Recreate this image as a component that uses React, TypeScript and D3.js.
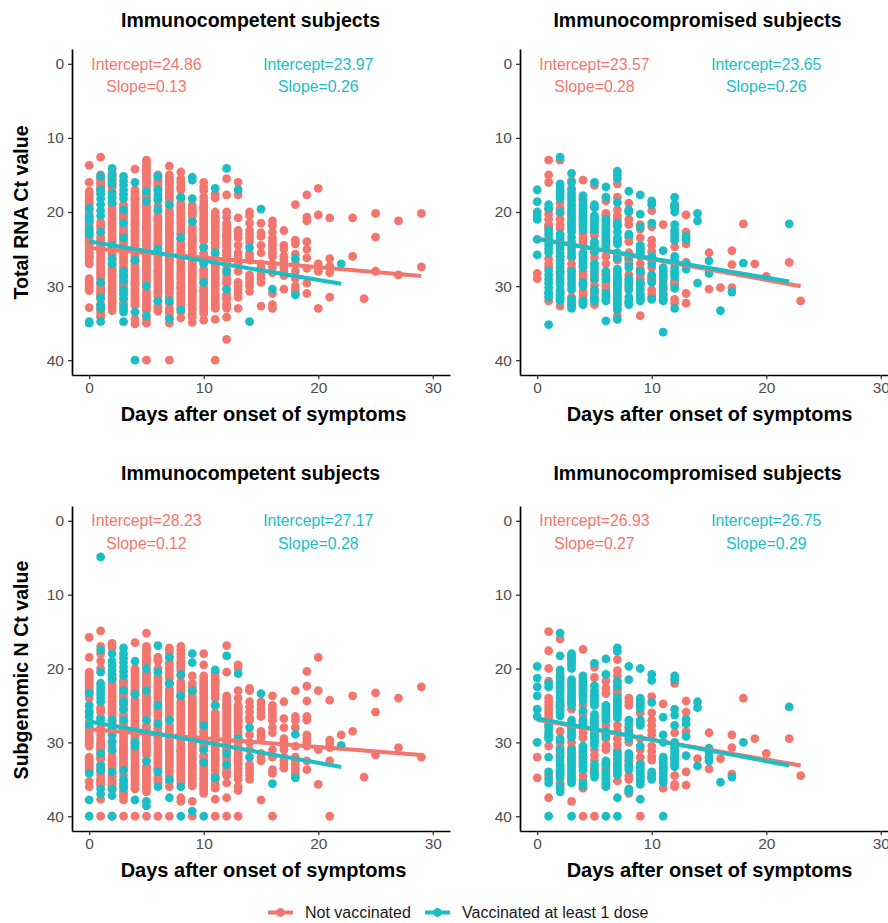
import React, { useEffect, useRef } from 'react';
import * as d3 from 'd3';

const SALMON = '#F3766E';
const TEAL = '#1BBEC4';
const FONT = '"Liberation Sans", Arial, sans-serif';
const DOT_R = 4.4;

const xTicks = [0, 10, 20, 30];
const yTicks = [0, 10, 20, 30, 40];
const legendLabels = ['Not vaccinated', 'Vaccinated at least 1 dose'];

// Total RNA, immunocompetent
const aNot: number[][] = [
  [13.7, 16, 17.2, 17.8, 18.4, 19, 19.7, 20.4, 21, 21.7, 22.4, 23, 23.7, 24.4, 25, 25.7, 26.3, 27, 29, 29.5, 30, 30.6, 32.9],
  [12.6, 15, 15.6, 16.2, 16.8, 21.4, 22.2, 23.4, 24.1, 24.8, 25.5, 26.2, 26.9, 27.6, 28.3, 29, 30, 30.7, 31.2, 33.5, 34.2],
  [14.6, 15.2, 16, 16.7, 19.5, 20.3, 21, 21.7, 22.4, 23.1, 23.8, 24.5, 25.2, 25.9, 26.6, 27.3, 28, 28.7, 29.4, 30.1, 30.8, 31.5, 32.2, 32.9],
  [19, 19.7, 20.4, 21, 22, 22.7, 24.2, 24.9, 25.6, 26.3, 27, 27.7, 29.4, 30, 32.3, 33.2],
  [14.2, 17, 17.7, 18.4, 19.1, 19.8, 20.5, 21.2, 21.9, 22.6, 23.3, 24, 24.7, 25.4, 26.1, 27.2, 27.9, 28.6, 29.3, 30, 30.7, 31.4, 32.1, 32.6, 34.5, 35.1],
  [13, 13.7, 14.4, 15, 15.7, 16.4, 18, 19, 19.7, 20.4, 21.1, 21.8, 22.5, 23.2, 23.9, 24.6, 25.3, 26, 26.7, 27.4, 28.1, 28.8, 29.5, 30.6, 31.3, 32, 32.7, 33.3, 34.5, 35, 40],
  [15, 15.7, 16.4, 17.1, 19.2, 20.6, 21.3, 22, 22.7, 23.4, 24.1, 25.8, 26.5, 27.2, 27.9, 28.6, 29.3, 30, 30.7, 31.4, 32.7, 33.4],
  [13.8, 15, 15.7, 16.4, 17.1, 17.8, 18.5, 19.8, 20.5, 21.2, 21.9, 22.6, 23.3, 24, 24.7, 25.4, 26.1, 26.8, 27.5, 28.2, 28.9, 29.6, 30.3, 31, 33, 33.7, 35, 40],
  [14.6, 15.5, 16.5, 17, 18.8, 19.5, 20.2, 20.9, 21.6, 22.3, 23, 24.2, 24.9, 25.6, 26.3, 27, 27.7, 28.4, 29.1, 29.8, 30.5, 31.2, 31.9, 32.6, 34.3],
  [19.1, 19.8, 20.5, 22, 22.7, 23.4, 24.1, 24.8, 25.5, 26.2, 26.9, 27.6, 28.3, 29, 29.7, 30.4, 31.1, 31.8, 32.5, 33.2, 34.2, 34.9],
  [16, 16.6, 17.1, 18, 19, 19.7, 20.4, 21.1, 21.8, 22.5, 23.2, 23.9, 25.5, 26.2, 27.7, 28.4, 29.1, 30.2, 30.9, 31.6, 32.3, 33, 33.7, 34.6],
  [17.6, 18.1, 20, 20.7, 21.4, 22.1, 22.8, 23.5, 24.8, 26.2, 26.9, 27.6, 28.3, 29, 29.7, 30.4, 31.1, 31.8, 32.5, 33, 34.5, 40],
  [15.5, 17.7, 20, 21.5, 22.2, 22.9, 23.6, 24.3, 25, 25.7, 26.4, 27.1, 29, 29.7, 31.1, 31.8, 32.4, 33, 34.2, 37.2],
  [16, 17.7, 20.8, 22.5, 23, 23.5, 24.5, 25.5, 26, 26.5, 27, 28, 29.5, 30, 30.5, 31, 31.5, 33],
  [20, 20.5, 21.5, 22.5, 23, 23.5, 24, 25.6, 26, 26.5, 28.5, 29, 29.5, 30, 30.7],
  [21.5, 22.8, 23.3, 24.5, 25.5, 27, 27.5, 28, 28.5, 29, 29.5, 32.7],
  [21.2, 21.8, 22.7, 23.5, 24, 24.5, 25, 25.5, 26, 27, 27.5, 28.2, 31, 32.5, 33],
  [22.5, 24.5, 25, 26, 26.5, 27, 27.5, 28, 28.6, 30.4],
  [19, 23.8, 24.3, 25.7, 27, 28, 29, 30, 30.5, 31],
  [17.7, 20.7, 21.2, 24, 25, 26.2, 27.6, 29.6, 31],
  [16.8, 20.4, 27, 27.5, 28, 33],
  [20.8, 26.3, 27.3, 28.2, 31.5],
  [],
  [20.8, 26],
  [31.7],
  [20.2, 23.4, 28],
  [],
  [21.2, 28.5],
  [],
  [20.2, 27.4],
];
const aNotMid: number[][] = [
  [17.5, 18.1, 18.7, 19.4, 20, 20.7, 21.4, 22, 22.7, 23.4, 24, 24.7, 25.4, 26, 26.7, 29.3, 29.8, 30.3],
  [15.3, 15.9, 16.5, 17.2, 21.8, 22.8, 23.8, 24.5, 25.2, 25.9, 26.6, 27.3, 28, 28.7, 29.6, 30.4, 31, 31.8, 32.6, 33.2, 33.9],
  [14.9, 15.6, 16.4, 17.2, 18, 19, 19.9, 20.7, 21.4, 22.1, 22.8, 23.5, 24.2, 24.9, 25.6, 26.3, 27, 27.7, 28.4, 29.1, 29.8, 30.5, 31.2, 31.9, 32.6, 33.3],
  [19.4, 20.1, 20.7, 21.5, 22.4, 23.2, 23.9, 24.6, 25.3, 26, 26.7, 27.4, 28, 28.7, 29.7, 30.4, 31, 31.7, 32.6],
  [17.4, 18.1, 18.8, 19.5, 20.2, 20.9, 21.6, 22.3, 23, 23.7, 24.4, 25.1, 25.8, 26.7, 27.6, 28.3, 29, 29.7, 30.4, 31.1, 31.8, 32.4],
  [13.4, 14, 14.7, 15.4, 16, 16.8, 17.6, 18.5, 19.4, 20.1, 20.8, 21.5, 22.2, 22.9, 23.6, 24.3, 25, 25.7, 26.4, 27.1, 27.8, 28.5, 29.2, 30, 31, 31.7, 32.4, 33],
  [15.4, 16, 16.8, 18.2, 19.9, 21, 21.7, 22.4, 23.1, 23.8, 24.5, 25, 25.5, 26.2, 26.9, 27.6, 28.3, 29, 29.7, 30.4, 31, 32, 33],
  [15.4, 16, 16.8, 17.5, 18.2, 19.2, 20.2, 20.9, 21.6, 22.3, 23, 23.7, 24.4, 25.1, 25.8, 26.5, 27.2, 27.9, 28.6, 29.3, 30, 30.7, 31.5, 32.3, 33.4, 34.3],
  [16, 16.8, 18, 19.2, 19.9, 20.6, 21.3, 22, 22.7, 23.6, 24.5, 25.3, 26, 26.7, 27.4, 28.1, 28.8, 29.5, 30.2, 30.9, 31.6, 32.3, 33, 33.5],
  [19.5, 20.2, 21.2, 22.4, 23.1, 23.8, 24.5, 25.2, 25.9, 26.6, 27.3, 28, 28.7, 29.4, 30.1, 30.8, 31.5, 32.2, 32.9, 33.7],
  [18.5, 19.4, 20, 20.8, 21.5, 22.2, 22.9, 23.6, 24.7, 25.8, 26.9, 28, 28.8, 29.6, 30.6, 31.3, 32, 32.7, 33.4],
  [20.4, 21.1, 21.8, 22.5, 23.2, 24.1, 25.5, 26.5, 27.3, 28, 28.7, 29.3, 30, 30.8, 31.5, 32.2, 32.8],
  [20.7, 21.8, 22.5, 23.3, 24, 24.6, 25.4, 26, 26.8, 27.8, 28.4, 29.4, 30.4, 31.5, 32.7],
];
const aVaxBack: number[][] = [
  [24, 26], [], [18.8, 27.8], [23, 28.6], [18.2, 21.6, 26.6, 29.7],
  [17.7, 22.2, 27.8], [20.9, 24.4, 28], [16.2, 22.9, 26.4, 29.9], [18.2, 23.6, 30.2], [20.1, 23.7, 27.2, 30.7],
  [19.4, 26.5, 30.6], [21, 24.2, 27.2], [23.3, 25.3],
];
const aVaxFront: number[][] = [
  [19.5, 20.6, 21.2, 22.3, 23, 34.8, 35],
  [15.2, 17, 17.6, 18.2, 19, 19.8, 20.5, 22.7, 29.5, 31.5, 32.5, 33, 34.8],
  [14.1, 15, 15.6, 16.2, 17.5, 18.1, 18.7, 24.5, 26.3, 27],
  [15.2, 15.8, 16.4, 17, 17.6, 18.2, 19.7, 21.5, 23.5, 28, 28.6, 29.2, 30.5, 31.1, 31.7, 32.8, 33.5, 34.8],
  [16, 26.5, 33.5, 40],
  [17.2, 18.5, 30, 34],
  [15.2, 17, 17.7, 18.4, 19.7, 25, 32],
  [19, 32, 34.4],
  [18, 23.5, 33.2],
  [15.3, 15.7, 18.2, 21.3],
  [24.8, 27, 29.5],
  [16.8, 25.5],
  [14.1, 28, 30.4],
  [17],
  [24.8, 34.8],
  [19.6],
  [30.4],
  [],
  [26.3, 31.2],
  [], [], [],
  [27],
];

// Total RNA, immunocompromised
const bNot: number[][] = [
  [28.3, 29],
  [13, 15, 16, 19.7, 20.3, 21, 21.7, 22.2, 26.3, 27, 27.5, 32],
  [13, 18.8, 19.5, 20.2, 21, 21.7, 22.2, 26, 27, 28.2, 32.7],
  [15.8, 16.8, 21.7, 26.2, 27, 27.6, 31.5],
  [15.7, 18.2, 23, 23.5, 24, 24.5, 28, 28.5, 29, 30.7, 31.3],
  [16.4, 23.2, 25.5, 26.2, 27, 28.5, 29.2, 29.9, 30.5, 31, 32.5],
  [18.5, 20.2, 25, 26, 27, 28.5, 30],
  [16.2, 18, 19.7, 20.5, 21, 23.7, 26.5, 32.4, 34],
  [18.8, 21, 21.7, 24, 25.5, 26.3, 28.5, 30.2],
  [21.7, 22.3, 23.5, 27, 27.7, 28.5, 29, 29.7, 34],
  [19.8, 22, 23.8, 24.5, 25.3, 26, 27.5, 29, 30.5, 31],
  [21.7, 28.7, 29.5, 30.3],
  [19, 24.7, 29.7, 31.8, 32.3],
  [20.4, 22.7, 24.3, 26.8, 31, 32.3],
  [],
  [25.5, 30.4],
  [30.2],
  [25.2, 27.1, 30.2],
  [21.6],
  [27],
  [28.7],
  [],
  [26.8],
  [32],
];
const bVax: number[][] = [
  [17, 18.6, 20, 20.5, 21, 23.7, 25.8],
  [19, 19.5, 22.5, 23.5, 24.5, 25, 25.5, 27.9, 29.1, 30.2, 31.5, 35.2],
  [12.6, 16.2, 17, 17.6, 18.2, 20, 23, 24, 25, 26, 27, 28, 29, 29.5, 30.5, 31, 31.5, 32],
  [14.8, 16, 17, 18, 19, 19.7, 20.5, 21.3, 22, 22.7, 24, 25, 26, 28, 29, 30, 31.8, 32.5, 33],
  [17.8, 18.5, 19, 19.7, 20.4, 21, 21.7, 22.4, 25.5, 26.2, 26.9, 27.5, 29.5, 30, 32, 32.5],
  [16, 19, 20.5, 21, 21.7, 22.4, 24, 24.7, 25.3, 27, 28, 29, 30.5, 31.5, 32],
  [16.6, 18, 21, 21.7, 22.4, 23, 23.7, 24.4, 28, 29, 31, 31.7, 34.7],
  [14.5, 15, 15.5, 18.7, 21.5, 22, 23.5, 24, 25.5, 26.2, 27.7, 28.5, 29, 29.6, 30.2, 31, 31.7, 32.5, 33.2, 34.5],
  [17.2, 19.7, 20, 23, 26, 27.5, 29, 29.7, 30.5, 32, 32.5],
  [17.7, 20.3, 22, 24.5, 25, 25.5, 26, 28, 29.5, 30, 31, 31.5, 32],
  [18.5, 19, 21.5, 26, 27, 28.5, 29.5, 31.8],
  [25.2, 27.5, 28.2, 29, 30, 31, 31.7, 32, 36.2],
  [18, 19, 19.5, 20, 21.7, 22.8, 23.8, 26, 27, 28, 28.7, 30.3, 33],
  [23.3, 23.7, 27, 27.7],
  [20.2, 21.2, 29.6],
  [26.6, 27.9, 28.3],
  [33.3],
  [30.8],
  [26.9],
  [], [], [],
  [21.6],
];
const bVaxMid: number[][] = [
  [],
  [22, 23, 24, 28.5, 29.6, 30.8, 31],
  [16.6, 17.3, 17.9, 23.5, 24.5, 25.5, 26.5, 27.5, 28.5, 29.8, 30.8, 31.2, 31.7],
  [17.5, 18.5, 19.3, 20.1, 20.9, 21.6, 22.3, 23.4, 24.5, 25.5, 28.5, 29.5, 30.5, 32.2, 32.8],
  [18.2, 19.3, 20, 20.7, 21.3, 22, 25.8, 26.5, 27.2, 29.8, 31.9, 32.3],
  [19.4, 20.8, 21.3, 22, 22.7, 24.3, 25, 27.5, 28.5, 30.9, 31.8],
  [20.5, 21.3, 22, 22.7, 23.4, 24, 24.7, 28.5, 29.5, 30.5, 31.3, 32],
  [21.8, 22.7, 24.3, 25.8, 28, 28.8, 29.3, 29.9, 30.6, 31.3, 32.1, 32.9],
  [19.9, 23.4, 26.5, 27, 29.3, 30, 31.5, 32.2],
  [24.8, 25.2, 25.8, 28.3, 29.7, 30.5, 31.3, 31.8],
  [26.5, 28.8, 29.2, 31.5],
  [27.9, 28.6, 30.5, 31.3, 31.9],
  [19.2, 22.4, 23.3, 26.5, 27.5, 28.3, 29.3, 29.8],
];

// Subgenomic N, immunocompetent
const cNot: number[][] = [
  [15.8, 18.5, 20.5, 21, 21.5, 22, 22.6, 23.2, 24, 27.2, 28, 29, 29.5, 30, 30.5, 32, 32.5, 33, 33.5, 34, 35.3, 36],
  [14.9, 17, 18, 19, 20, 25.3, 25.9, 28, 29, 30, 30.5, 31, 32.3, 34.5, 35, 35.5, 37.7, 40],
  [16.6, 17.2, 21.8, 22.5, 23.2, 23.9, 24.6, 25.3, 26, 26.7, 27.4, 31.8, 32.5, 33.2, 34.6, 35.3, 36, 40],
  [21.6, 22.2, 22.9, 23.6, 25, 26.2, 27.7, 28.4, 29.1, 29.8, 30.5, 31.2, 31.9, 32.6, 33.2, 36.7, 37.3, 37.8, 40],
  [16.5, 20, 20.7, 21.4, 22.1, 22.8, 24.2, 24.9, 25.6, 26.3, 27, 27.7, 28.4, 29.1, 30.7, 31.4, 32.1, 32.8, 33.5, 34.2, 34.9, 35.6, 36.3, 40],
  [15.2, 17, 17.6, 18.5, 19, 19.5, 21.6, 22.3, 23.6, 24.3, 25, 25.7, 26.4, 27.7, 28.4, 29.1, 29.8, 30.5, 31.2, 33.2, 33.9, 34.6, 35.3, 36, 36.7, 40],
  [18.5, 19, 21.2, 21.9, 22.6, 23.3, 24, 25.7, 26.4, 28.1, 28.8, 29.5, 30.2, 30.9, 31.6, 32.3, 33, 34.7, 35.4, 40],
  [17.2, 17.8, 19.2, 19.9, 20.6, 21.3, 22.8, 23.5, 24.2, 24.9, 25.6, 26.3, 27.7, 28.4, 29.1, 29.8, 30.5, 31.2, 31.9, 32.6, 33.3, 34, 36, 40],
  [17, 18, 19, 19.6, 20.2, 21.8, 22.5, 23.3, 24.5, 25.2, 25.9, 26.6, 27.3, 28, 28.7, 29.4, 30.1, 30.8, 31.5, 32.2, 32.9, 33.6, 34.3, 35, 37.5, 38],
  [21, 22.5, 23.7, 24.4, 25.1, 25.8, 26.5, 27.2, 27.9, 28.6, 29.3, 30, 30.7, 31.4, 32.1, 32.8, 33.5, 34.2, 34.9, 35.6, 38, 40],
  [18, 19.5, 21, 21.7, 22.4, 23.1, 23.8, 24.5, 25.2, 25.9, 26.6, 28.4, 29.1, 29.8, 32, 33.4, 34.1, 34.8, 35.5, 36.2, 36.9],
  [20.5, 21.5, 22, 23, 24, 26, 26.7, 27.4, 28.1, 28.8, 29.5, 30.2, 30.9, 31.6, 32.3, 33, 33.7, 35.5, 36.2, 37.7, 40],
  [16.9, 20.5, 23.7, 24.4, 25.1, 25.8, 26.5, 27.2, 27.9, 28.6, 29.3, 30, 30.7, 32, 34, 34.5, 35.5, 37.5, 40],
  [19.5, 20, 23, 24, 25, 25.5, 26, 26.5, 27, 27.5, 28, 30.5, 31, 31.7, 32.4, 33, 34, 35, 36, 36.5, 40],
  [22.7, 23, 24.5, 25.2, 25.9, 26.6, 27, 29, 30, 31, 33, 33.5, 34, 34.5, 35],
  [24.5, 25, 25.5, 26, 26.5, 28.5, 29, 29.5, 31.5, 32, 32.5, 37.8],
  [23.7, 25, 25.5, 26, 26.5, 27, 28, 28.7, 31, 32, 33.7, 34.2, 40],
  [24.5, 26.8, 28, 29.5, 30, 30.5, 31, 32, 32.5, 33, 33.5],
  [23, 26.5, 27, 28, 30.5, 32, 32.5, 33, 33.5, 34, 34.5],
  [20.4, 22.4, 24.4, 26.5, 27, 29, 29.5, 30, 30.5, 32.5, 33.7],
  [18.5, 23, 31, 35.7],
  [24.3, 29.7, 30.2, 30.7, 32.5, 40],
  [29],
  [23.7, 28.5],
  [34.7],
  [23.3, 25.9, 31.7],
  [],
  [24, 30.7],
  [],
  [22.5, 32],
];
const cNotMid: number[][] = [
  [20.8, 21.3, 21.8, 22.3, 22.9, 23.6, 28.5, 29.3, 29.8, 30.3, 32.3, 32.8, 33.3, 33.8],
  [25.6, 28.5, 29.5, 30.3, 30.8, 31.5, 32, 33, 33.5, 34, 35.2, 35.8],
  [21.1, 21.5, 22.2, 22.9, 23.6, 24.3, 25, 25.7, 26.4, 27, 27.7, 28.4, 29, 29.8, 30.5, 31.2, 32.2, 32.9, 33.6, 34.3, 35, 35.7, 36.4],
  [21.9, 22.6, 23.3, 24, 24.7, 25.6, 26.6, 27.3, 28, 28.7, 29.4, 30.1, 30.8, 31.5, 32.2, 32.9, 33.6, 34.4, 35.2, 36, 37],
  [20.3, 21, 21.7, 22.4, 23.1, 23.5, 24.5, 25.2, 25.9, 26.6, 27.3, 28, 28.7, 29.5, 30.2, 31, 31.7, 32.4, 33.1, 33.8, 34.5, 35.2, 35.9],
  [17.3, 18, 18.8, 19.2, 20.5, 21.3, 21.9, 22.7, 23.2, 24, 24.7, 25.4, 26, 27, 28, 28.8, 29.5, 30.2, 30.9, 31.7, 32.5, 33.5, 34.2, 34.9, 35.6, 36.3],
  [18.8, 20, 21.5, 22.3, 23, 23.7, 24.5, 25.3, 26, 27, 27.7, 28.5, 29.2, 29.9, 30.6, 31.3, 32, 32.7, 33.4, 34, 35],
  [17.5, 18.5, 19.5, 20.2, 21, 22, 23.1, 23.8, 24.5, 25.2, 25.9, 27, 28, 28.7, 29.4, 30.1, 30.8, 31.5, 32.2, 32.9, 33.6, 34.5, 35.3],
  [17.5, 18.5, 19.3, 19.9, 21, 22.2, 22.9, 23.9, 24.8, 25.5, 26.2, 26.9, 27.6, 28.3, 29, 29.7, 30.4, 31.1, 31.8, 32.5, 33.2, 33.9, 34.6, 35.5],
  [22, 23.1, 24, 24.7, 25.4, 26.1, 26.8, 27.5, 28.2, 28.9, 29.6, 30.3, 31, 31.7, 32.4, 33.1, 33.8, 34.5, 35.2, 35.9],
  [21.3, 22, 22.7, 23.4, 24.1, 24.8, 25.5, 26.2, 27, 28, 28.7, 29.4, 30.3, 31, 31.7, 32.5, 33, 33.7, 34.4, 35.1, 35.8, 36.5],
  [21, 21.8, 22.5, 23.5, 26.3, 27, 27.7, 28.4, 29.1, 29.8, 30.5, 31.2, 31.9, 32.6, 33.3, 34.4, 35, 35.9],
  [24, 24.7, 25.4, 26.1, 26.8, 27.5, 28.2, 28.9, 29.6, 30.3, 31, 31.5, 32.5, 33, 33.5, 34.2],
  [25.2, 25.8, 26.2, 26.8, 27.2, 27.8, 28.5, 29, 29.5, 30, 30.8, 31.4, 32, 32.7, 33.5, 34.5],
];
const cVaxBack: number[][] = [
  [26], [26.6], [28.3], [24.4, 28], [23.4, 29.9],
  [20.9, 30.4], [24.8, 33.6], [22.1, 26.9], [23.7, 31.2], [23, 30.4],
  [27.3, 30.6], [25, 34.8],
];
const cVaxFront: number[][] = [
  [23.3, 25, 25.8, 26.5, 27.6, 34.2, 37.8, 40],
  [4.9, 17.5, 20.5, 22, 22.5, 23, 23.5, 24, 24.5, 27, 31.5, 33.2, 33.8, 36.3, 37],
  [18, 19, 19.6, 20.2, 20.8, 21.4, 27, 28, 29, 30, 31, 34, 36.3, 37.2, 40],
  [17.2, 18, 18.6, 19.2, 19.8, 20.4, 21, 23, 24.5, 25.5, 27, 33.8, 35, 35.6, 36.2],
  [19, 23.5, 30, 30.5, 37.8],
  [20, 23, 27, 32.5, 38, 38.6],
  [16.9, 20.5, 25, 27.5, 34, 36],
  [18.5, 22, 27, 35, 37.5],
  [20.8, 23.7, 36, 40],
  [18, 19.2, 23, 39.3],
  [27.7, 31, 32.7, 40],
  [20.2, 25, 34.8],
  [18.3, 31.5, 33],
  [20.7, 29.5],
  [28, 32],
  [23.4],
  [35.6],
  [],
  [28.9, 34.8],
  [], [], [],
  [30.4],
];

// Subgenomic N, immunocompromised
const dNot: number[][] = [
  [32, 34.8],
  [15, 17.6, 20, 21.7, 24, 24.5, 25, 25.5, 26, 26.5, 27, 30.5, 34.5, 37.5],
  [16, 20.7, 25, 28.5, 30.7, 31.3, 31.8, 35.7],
  [18.7, 25.5, 30, 30.7, 31.3, 38],
  [17.4, 25, 26.3, 28, 28.7, 29.4, 32, 34.5, 36.2, 40],
  [19.8, 21.2, 28, 31, 31.7, 32.4, 33.7, 40],
  [21.7, 22.7, 23.4, 27.7, 28.7, 29.5, 30.4, 31, 33.7],
  [18.8, 20.3, 21, 23, 27.7, 28.5, 29.5, 30.3, 31, 35.2],
  [24, 24.5, 25, 28, 30, 32.5, 34.5, 35, 36.9],
  [26, 29.5, 31, 32, 32.8, 40],
  [23.8, 26, 27, 27.7, 28.4, 29, 30.5, 31.2, 31.9, 32.4],
  [24.8, 33.5, 36.2],
  [22, 28.7, 34.5, 35.7, 36],
  [24.4, 25.9, 28.5, 34, 35.8],
  [32.2],
  [28.7, 33.6],
  [32.2],
  [29, 30.7, 34.3],
  [24],
  [29.5],
  [31.5],
  [],
  [29.5],
  [34.5],
];
const dVax: number[][] = [
  [19.7, 21.3, 22.5, 23.7, 25.5, 26.5, 30],
  [22, 22.5, 27.5, 28, 29, 29.5, 32, 34, 35, 35.5, 40],
  [15.2, 18.3, 20.2, 21, 21.7, 22.4, 23, 23.7, 24.4, 25, 25.7, 26.4, 29.5, 31, 32, 33, 33.6, 34.2, 34.8, 36, 36.7],
  [18, 18.6, 19.2, 20, 21.5, 22.2, 23, 23.7, 24.4, 25, 27, 28, 28.7, 29.3, 31, 31.7, 32.3, 33, 33.7, 34.4, 35, 35.5, 40],
  [21, 21.7, 22.4, 23, 23.7, 24.4, 25.7, 27, 27.7, 30.5, 31, 31.7, 32.4, 33, 33.7, 35.9],
  [19.3, 22.3, 23.5, 24.2, 25, 26.2, 27, 27.7, 28.4, 29, 29.7, 30.4, 33, 34, 34.7],
  [18.7, 20.8, 25, 25.7, 26.4, 27, 28.5, 29.2, 32.5, 33, 34, 34.7, 35.4, 36, 40],
  [17.2, 17.7, 21.7, 22.4, 24, 24.7, 25.4, 26, 26.7, 31.5, 32.2, 33, 33.7, 34.4, 37.5, 40],
  [19.7, 21.5, 27.5, 28.5, 29.5, 31.5, 32, 33, 33.7, 36.3, 36.7],
  [20, 24, 24.7, 25.4, 27, 27.7, 30.5, 33, 33.7, 34.4, 35, 35.7, 37.7],
  [20.8, 21.6, 24.6, 34, 34.6, 35],
  [26.6, 29, 30, 32, 32.7, 33.4, 34, 34.7, 35.4, 40],
  [21, 21.5, 25.5, 26.3, 27.7, 30, 30.7, 31.4, 32, 32.7, 33.3],
  [26.9, 27.5, 29.2, 31.8],
  [24.5, 25.3, 33.2],
  [30.8, 31.3, 32, 32.5],
  [35.4],
  [34.7],
  [30],
  [], [], [],
  [25.2],
];
const dVaxMid: number[][] = [
  [],
  [27.8, 28.5, 29.2],
  [21.3, 22, 22.7, 23.3, 24, 24.7, 25.3, 26, 30, 31.5, 32.5, 33.3, 33.9, 34.5, 35.5, 36.3],
  [18.3, 18.9, 19.6, 21.8, 22.6, 23.3, 24, 24.7, 27.5, 28.3, 29, 31.3, 32, 32.6, 33.3, 34, 34.7, 35.2],
  [21.3, 22, 22.7, 23.3, 24, 25.9, 27.3, 30.7, 31.3, 32, 32.7, 33.3, 35.2, 35.6],
  [23, 23.8, 24.6, 26.6, 27.3, 28, 28.7, 29.3, 30, 33.5, 34.3],
  [25.3, 26, 26.7, 28.8, 32.8, 33.5, 34.3, 35, 35.7],
  [21.9, 22.8, 23.5, 24.3, 25, 25.7, 26.3, 31.8, 32.6, 33.3, 34],
  [27, 28, 29, 32.5, 33.3, 36.5],
  [24.3, 25, 27.3, 33.3, 34, 34.7, 35.3],
  [34.3, 34.8],
  [32.3, 33, 33.7, 34.3, 35],
  [30.3, 31, 31.7, 32.3, 33],
];

// printed fit per panel: [not vaccinated, vaccinated]
const aIntercepts = [24.86, 23.97];
const aSlopes = [0.13, 0.26];
const bIntercepts = [23.57, 23.65];
const bSlopes = [0.28, 0.26];
const cIntercepts = [28.23, 27.17];
const cSlopes = [0.12, 0.28];
const dIntercepts = [26.93, 26.75];
const dSlopes = [0.27, 0.29];
const fitEndLeft = [29, 22];
const fitEndRight = [23, 22];

const labelDays = [5, 20];
const labelCts = [0, 3];

const xDomain: [number, number] = [-1.5, 31.5];
const yDomain: [number, number] = [-2, 42];

const flatten = (cols: number[][]) =>
  cols.flatMap((vals, day) => vals.map(ct => ({ day, ct })));

type PanelProps = {
  left: number;
  top: number;
  bottom: number;
  title: string;
  titleX: number;
  titleY: number;
  xTitleX: number;
  xTitleY: number;
  yTitle?: string;
  yTitleY?: number;
  layers: [string, number[][]][];
  intercepts: number[];
  slopes: number[];
  fitEnd: number[];
};

function Panel(p: PanelProps) {
  const xRef = useRef<SVGGElement>(null);
  const yRef = useRef<SVGGElement>(null);
  const right = p.left + 378;
  const x = d3.scaleLinear().domain(xDomain).range([p.left, right]);
  const y = d3.scaleLinear().domain(yDomain).range([p.top, p.bottom]);

  useEffect(() => {
    const style = (g: d3.Selection<SVGGElement, unknown, null, undefined>) => {
      g.selectAll('.domain').attr('stroke', '#000').attr('stroke-width', 1.7);
      g.selectAll('.tick line').attr('stroke', '#333').attr('stroke-width', 1.3);
      g.selectAll('.tick text').attr('fill', '#4D4D4D').attr('font-size', 15.5).attr('font-family', FONT);
    };
    d3.select(xRef.current!)
      .call(d3.axisBottom(x).tickValues(xTicks).tickSize(4).tickPadding(3).tickSizeOuter(0))
      .call(style as any);
    d3.select(yRef.current!)
      .call(d3.axisLeft(y).tickValues(yTicks).tickSize(4).tickPadding(4).tickSizeOuter(0))
      .call(style as any);
  }, []);

  const lineGen = d3.line<number>().x(d => x(d[0])).y(d => y(d[1])) as any;

  return (
    <g>
      {p.layers.map(([color, cols], k) => (
        <g key={k} fill={color}>
          {flatten(cols).map((d, i) => (
            <circle key={i} cx={x(d.day)} cy={y(d.ct)} r={DOT_R} />
          ))}
        </g>
      ))}
      {[SALMON, TEAL].map((c, i) => (
        <path
          key={c}
          d={lineGen([
            [0, p.intercepts[i]],
            [p.fitEnd[i], p.intercepts[i] + p.slopes[i] * p.fitEnd[i]],
          ])}
          stroke={c}
          strokeWidth={4}
          fill="none"
        />
      ))}
      {[SALMON, TEAL].map((c, i) => (
        <g key={'t' + c} fill={c} fontFamily={FONT} fontSize={15.8} textAnchor="middle">
          <text x={x(labelDays[i])} y={y(labelCts[0])} dy="0.36em">{`Intercept=${p.intercepts[i].toFixed(2)}`}</text>
          <text x={x(labelDays[i])} y={y(labelCts[1])} dy="0.36em">{`Slope=${p.slopes[i].toFixed(2)}`}</text>
        </g>
      ))}
      <g ref={xRef} transform={`translate(0,${p.bottom})`} />
      <g ref={yRef} transform={`translate(${p.left},0)`} />
      <text x={p.titleX} y={p.titleY} textAnchor="middle" fontFamily={FONT} fontWeight="bold" fontSize={19.5}>
        {p.title}
      </text>
      <text x={p.xTitleX} y={p.xTitleY} textAnchor="middle" fontFamily={FONT} fontWeight="bold" fontSize={20}>
        Days after onset of symptoms
      </text>
      {p.yTitle && (
        <text
          transform={`translate(28,${p.yTitleY}) rotate(-90)`}
          textAnchor="middle"
          fontFamily={FONT}
          fontWeight="bold"
          fontSize={19.6}
        >
          {p.yTitle}
        </text>
      )}
    </g>
  );
}

export default function App() {
  return (
    <svg width={888} height={923} style={{ position: 'absolute', left: 0, top: 0, background: '#fff' }}>
      <Panel left={72} top={49} bottom={375} title="Immunocompetent subjects" titleX={250.5} titleY={27}
        xTitleX={263.5} xTitleY={421} yTitle="Total RNA Ct value" yTitleY={212.5}
        layers={[[TEAL, aVaxBack], [SALMON, aNot], [SALMON, aNotMid], [TEAL, aVaxFront]]}
        intercepts={aIntercepts} slopes={aSlopes} fitEnd={fitEndLeft} />
      <Panel left={520} top={49} bottom={375} title="Immunocompromised subjects" titleX={697.5} titleY={27}
        xTitleX={709.5} xTitleY={421}
        layers={[[TEAL, bVaxMid], [SALMON, bNot], [TEAL, bVax]]}
        intercepts={bIntercepts} slopes={bSlopes} fitEnd={fitEndRight} />
      <Panel left={72} top={506} bottom={831} title="Immunocompetent subjects" titleX={250.5} titleY={479.5}
        xTitleX={263.5} xTitleY={876.5} yTitle="Subgenomic N Ct value" yTitleY={670}
        layers={[[TEAL, cVaxBack], [SALMON, cNot], [SALMON, cNotMid], [TEAL, cVaxFront]]}
        intercepts={cIntercepts} slopes={cSlopes} fitEnd={fitEndLeft} />
      <Panel left={520} top={506} bottom={831} title="Immunocompromised subjects" titleX={697.5} titleY={479.5}
        xTitleX={709.5} xTitleY={876.5}
        layers={[[TEAL, dVaxMid], [SALMON, dNot], [TEAL, dVax]]}
        intercepts={dIntercepts} slopes={dSlopes} fitEnd={fitEndRight} />
      {[SALMON, TEAL].map((c, i) => {
        const keyX = [268, 425][i];
        return (
          <g key={c}>
            <line x1={keyX} x2={keyX + 25} y1={912.5} y2={912.5} stroke={c} strokeWidth={4} />
            <circle cx={keyX + 12.5} cy={912.5} r={DOT_R} fill={c} />
            <text x={keyX + 37} y={918} fontFamily={FONT} fontSize={16} fill="#1a1a1a">
              {legendLabels[i]}
            </text>
          </g>
        );
      })}
    </svg>
  );
}
